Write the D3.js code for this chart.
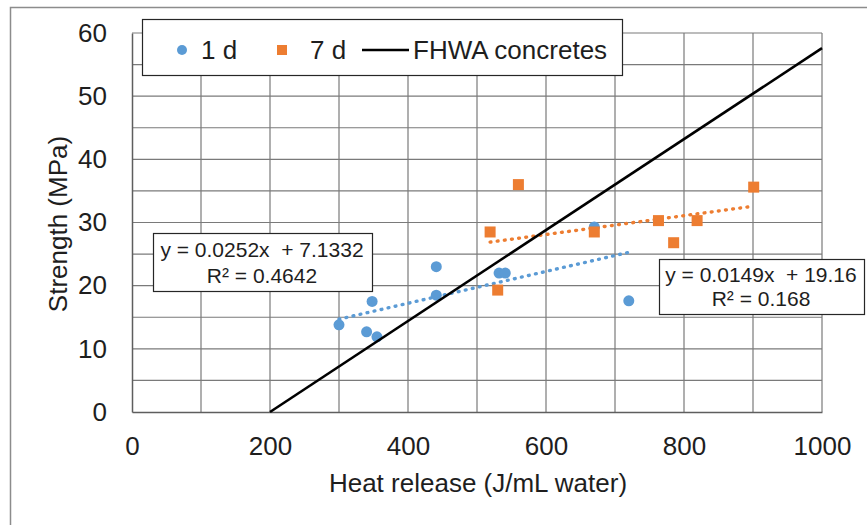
<!DOCTYPE html>
<html>
<head>
<meta charset="utf-8">
<script src="https://cdn.jsdelivr.net/npm/d3@7"></script>
<style>
	body { margin: 0; background: #fff; }
	#chart { width: 867px; height: 525px; }
	text { font-family: Arial, "Liberation Sans", sans-serif; fill: #1e1e1e; }
</style>
</head>
<body>
<div id="chart"></div>
<script>
"use strict"

// 1 d results
const day1Heat = [300, 340, 355, 348, 441, 441, 532, 541, 670, 720];
const day1Strength = [13.8, 12.7, 11.9, 17.5, 23.0, 18.5, 22.0, 22.0, 29.3, 17.6];

// 7 d results
const day7Heat = [519, 530, 560, 670, 763, 785, 819, 901];
const day7Strength = [28.5, 19.3, 36.0, 28.5, 30.3, 26.8, 30.3, 35.6];

// FHWA concretes line (end points)
const fhwaHeat = [200, 1000];
const fhwaStrength = [0, 57.6];

const seriesNames = ["1 d", "7 d", "FHWA concretes"];
const xTicks = [0, 200, 400, 600, 800, 1000];
const yTicks = [0, 10, 20, 30, 40, 50, 60];

// linear trendlines as printed on the chart
const trendSlopes = [0.0252, 0.0149];
const trendIntercepts = [7.1332, 19.16];
const trendEquations = ["y = 0.0252x  + 7.1332", "y = 0.0149x  + 19.16"];
const trendR2 = ["R² = 0.4642", "R² = 0.168"];

let ScatterView = function(targetID) {
	let self = {
		targetID: "",
		target: null,
		totalWidth: 867,
		totalHeight: 525,
		width: "",
		height: "",
		margin: "",
		targetSvg: null,
		targetEle: null,

		series: [],

		xScale: d3.scaleLinear(),
		yScale: d3.scaleLinear(),

		colors: ["#5b9bd5", "#ed7d31", "#000000"],
		gridColor: "#7a7a7a",
		fontSize: "26px",
	}

	init();

	function init() {
		self.targetID = targetID;
	}

	function data() {
		self.series = [
			{name: seriesNames[0], pts: day1Heat.map((x, i) => ({x: x, y: day1Strength[i]})), slope: trendSlopes[0], icpt: trendIntercepts[0]},
			{name: seriesNames[1], pts: day7Heat.map((x, i) => ({x: x, y: day7Strength[i]})), slope: trendSlopes[1], icpt: trendIntercepts[1]},
		];
		return this;
	}

	function draw() {
		initTarget();

		self.xScale.range([0, self.width]).domain([0, 1000]);
		self.yScale.range([self.height, 0]).domain([0, 60]);

		// grid
		let grid = self.targetEle.append("g").attr("class", "grid");
		grid.selectAll(".vgrid")
			.data(d3.range(100, 1001, 100))
			.enter().append("line")
				.attr("x1", d => self.xScale(d)).attr("x2", d => self.xScale(d))
				.attr("y1", 0).attr("y2", self.height)
				.style("stroke", self.gridColor).style("stroke-width", 1.2);
		grid.selectAll(".hgrid")
			.data(d3.range(5, 61, 5))
			.enter().append("line")
				.attr("x1", 0).attr("x2", self.width)
				.attr("y1", d => self.yScale(d)).attr("y2", d => self.yScale(d))
				.style("stroke", self.gridColor).style("stroke-width", 1.2);

		// axes
		let xAxis = self.targetEle.append("g")
			.attr("transform", `translate(0, ${self.height})`)
			.call(d3.axisBottom(self.xScale).tickValues(xTicks).tickFormat(d3.format("d")).tickSize(0).tickPadding(25));
		let yAxis = self.targetEle.append("g")
			.call(d3.axisLeft(self.yScale).tickValues(yTicks).tickFormat(d3.format("d")).tickSize(0).tickPadding(25));
		[xAxis, yAxis].forEach(a => {
			a.select(".domain").style("stroke", "#5e5e5e").style("stroke-width", 1.5);
			a.selectAll("text").style("font-size", self.fontSize).style("font-family", "Arial, 'Liberation Sans', sans-serif").style("fill", "#1e1e1e");
		});

		// trendlines
		let line = d3.line().x(d => self.xScale(d.x)).y(d => self.yScale(d.y));
		self.targetEle.append("g").attr("class", "trends").selectAll("path")
			.data(self.series)
			.enter().append("path")
				.attr("d", s => {
					let ext = d3.extent(s.pts, p => p.x);
					return line(ext.map(x => ({x: x, y: s.slope * x + s.icpt})));
				})
				.style("fill", "none")
				.style("stroke", (s, i) => self.colors[i])
				.style("stroke-width", 3.4)
				.style("stroke-linecap", "round")
				.style("stroke-dasharray", "0.8,6.4");

		// 1 d markers
		self.targetEle.append("g").attr("class", "day1").selectAll("circle")
			.data(self.series[0].pts)
			.enter().append("circle")
				.attr("cx", d => self.xScale(d.x))
				.attr("cy", d => self.yScale(d.y))
				.attr("r", 5.5)
				.style("fill", self.colors[0]);

		// 7 d markers
		self.targetEle.append("g").attr("class", "day7").selectAll("rect")
			.data(self.series[1].pts)
			.enter().append("rect")
				.attr("x", d => self.xScale(d.x) - 5.5)
				.attr("y", d => self.yScale(d.y) - 5.5)
				.attr("width", 11).attr("height", 11)
				.style("fill", self.colors[1]);

		// FHWA line
		self.targetEle.append("path")
			.attr("d", line(fhwaHeat.map((x, i) => ({x: x, y: fhwaStrength[i]}))))
			.style("fill", "none")
			.style("stroke", "#000")
			.style("stroke-width", 2.6);

		// axis titles
		self.targetSvg.append("text")
			.attr("x", 478).attr("y", 492)
			.attr("text-anchor", "middle")
			.style("font-size", self.fontSize)
			.text("Heat release (J/mL water)");
		self.targetSvg.append("text")
			.attr("transform", "translate(67, 224)rotate(-90)")
			.attr("text-anchor", "middle")
			.style("font-size", self.fontSize)
			.text("Strength (MPa)");

		drawEquations();
		drawLegend();
	}

	function drawEquations() {
		let boxes = [
			{x: 153, y: 233, w: 219, h: 58, cx: 262, b1: 257, b2: 283},
			{x: 659, y: 259, w: 205, h: 55, cx: 761, b1: 282, b2: 306},
		];
		boxes.forEach((b, i) => {
			let g = self.targetSvg.append("g").attr("class", "equation");
			g.append("rect")
				.attr("x", b.x + 0.5).attr("y", b.y + 0.5)
				.attr("width", b.w).attr("height", b.h)
				.style("fill", "#fff").style("stroke", "#262626").style("stroke-width", 1.2);
			g.append("text").attr("x", b.cx).attr("y", b.b1)
				.attr("text-anchor", "middle").style("font-size", "21px").style("white-space", "pre")
				.text(trendEquations[i]);
			g.append("text").attr("x", b.cx).attr("y", b.b2)
				.attr("text-anchor", "middle").style("font-size", "21px")
				.text(trendR2[i]);
		});
	}

	function drawLegend() {
		let g = self.targetSvg.append("g").attr("class", "legend");
		g.append("rect")
			.attr("x", 142.5).attr("y", 19.5)
			.attr("width", 480).attr("height", 56)
			.style("fill", "#fff").style("stroke", "#262626").style("stroke-width", 1.2);

		g.append("circle").attr("cx", 182).attr("cy", 50).attr("r", 5).style("fill", self.colors[0]);
		g.append("text").attr("x", 201).attr("y", 59).style("font-size", self.fontSize).text(seriesNames[0]);

		g.append("rect").attr("x", 277).attr("y", 45).attr("width", 10).attr("height", 10).style("fill", self.colors[1]);
		g.append("text").attr("x", 310).attr("y", 59).style("font-size", self.fontSize).text(seriesNames[1]);

		g.append("line").attr("x1", 362).attr("x2", 409).attr("y1", 50).attr("y2", 50)
			.style("stroke", "#000").style("stroke-width", 2.6);
		g.append("text").attr("x", 413).attr("y", 59).style("font-size", self.fontSize).text(seriesNames[2]);
	}

	function initTarget() {
		self.target = d3.select(self.targetID);

		self.margin = {
			'left': 132,
			'right': self.totalWidth - 822,
			'top': 33,
			'bottom': self.totalHeight - 412
		};

		self.width = self.totalWidth - self.margin.left - self.margin.right;
		self.height = self.totalHeight - self.margin.top - self.margin.bottom;

		self.targetSvg = self.target.append("svg")
							.attr("width", self.totalWidth)
							.attr("height", self.totalHeight);

		// chart area frame
		self.targetSvg.append("rect")
			.attr("x", 10.5).attr("y", 7.5)
			.attr("width", 880).attr("height", 530)
			.style("fill", "#fff").style("stroke", "#8c8c8c").style("stroke-width", 1.5);

		self.targetEle = self.targetSvg.append("g")
							.attr("transform", "translate(" + self.margin.left + "," + self.margin.top + ")");
	}

	return {
		data,
		draw,
	};
}

ScatterView("#chart").data().draw();
</script>
</body>
</html>
